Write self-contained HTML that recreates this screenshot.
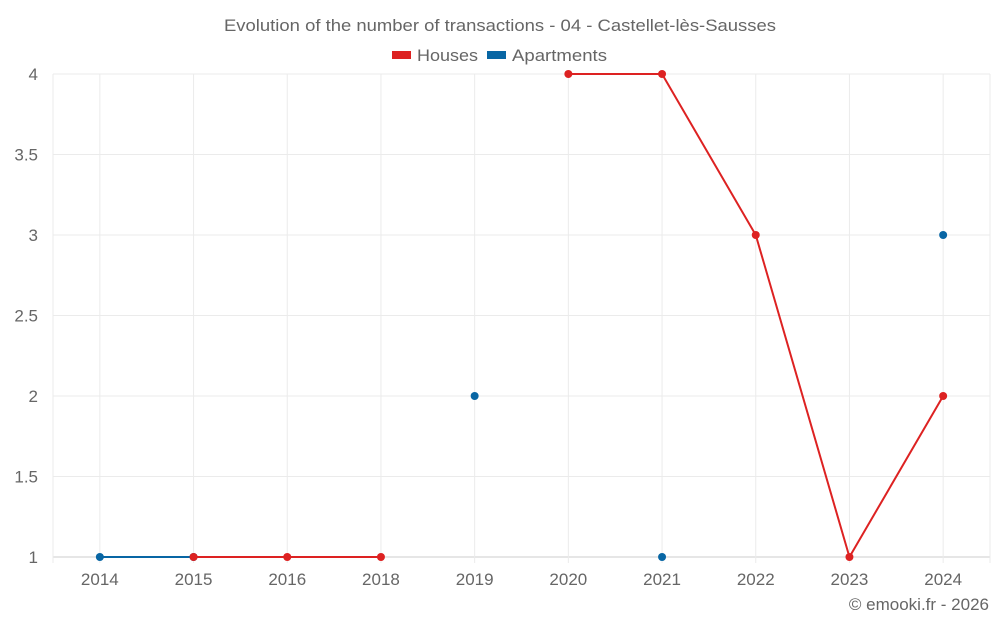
<!DOCTYPE html>
<html><head><meta charset="utf-8"><style>
body{margin:0;background:#fff;font-family:"Liberation Sans",sans-serif;}
svg text{font-family:"Liberation Sans",sans-serif;fill:#666;}
</style></head><body>
<svg id="chart" width="1000" height="625">
<text x="224" y="31" font-size="17" textLength="552" lengthAdjust="spacingAndGlyphs">Evolution of the number of transactions - 04 - Castellet-lès-Sausses</text>
<g>
<g><rect x="392" y="51" width="19" height="8" fill="#dd2222"/><text x="417" y="61" font-size="17" textLength="61" lengthAdjust="spacingAndGlyphs">Houses</text></g>
<g><rect x="487" y="51" width="19" height="8" fill="#0866a4"/><text x="512" y="61" font-size="17" textLength="95" lengthAdjust="spacingAndGlyphs">Apartments</text></g>
</g>
<g id="grid"></g>
<g id="axes"></g>
<g id="series"></g>
<text x="989" y="610" text-anchor="end" font-size="17">© emooki.fr - 2026</text>
</svg>
<script>
const categories=["2014","2015","2016","2018","2019","2020","2021","2022","2023","2024"];
const houses=[null,1,1,1,null,4,4,3,1,2];
const apartments=[1,1,null,null,2,null,1,null,null,3];
const yTicks=[1,1.5,2,2.5,3,3.5,4];
const yTickLabels=["1","1.5","2","2.5","3","3.5","4"];
const NS="http://www.w3.org/2000/svg";
const L=53,R=990,T=74,B=557,yMin=1,yMax=4;
const bw=(R-L)/categories.length;
const xs=i=>L+bw*(i+0.5);
const ys=v=>B-(v-yMin)/(yMax-yMin)*(B-T);
function mk(tag,attrs,parent){const e=document.createElementNS(NS,tag);for(const k in attrs)e.setAttribute(k,attrs[k]);parent.appendChild(e);return e;}
const grid=document.getElementById('grid'),axes=document.getElementById('axes'),series=document.getElementById('series');
yTicks.forEach((t,i)=>{
 const l=mk('line',{x1:L,x2:R,y1:ys(t),y2:ys(t),stroke:i==0?'#ccc':'#ebebeb','stroke-width':1},grid);
 
 
 const tx=mk('text',{x:38,y:ys(t)+6,'text-anchor':'end','font-size':17},axes);
 tx.textContent=yTickLabels[i];
 
 
});
[L,R].forEach(x=>{const l=mk('line',{x1:x,x2:x,y1:T,y2:B+6,stroke:'#ebebeb'},grid);
 
 });
categories.forEach((c,i)=>{
 const l=mk('line',{x1:xs(i),x2:xs(i),y1:T,y2:B+6,stroke:'#ebebeb'},grid);
 
 
 const tx=mk('text',{x:xs(i),y:585,'text-anchor':'middle','font-size':17},axes);
 tx.textContent=c;
 
 
});
function draw(data,color,name){
 let seg=[];
 const flush=()=>{if(seg.length>1){const p=mk('polyline',{points:seg.join(' '),fill:'none',stroke:color,'stroke-width':2},series);
  
  }seg=[];};
 data.forEach((v,i)=>{if(v==null){flush();return;}seg.push(xs(i)+','+ys(v));});
 flush();
 data.forEach((v,i)=>{if(v==null)return;
  const c=mk('circle',{cx:xs(i),cy:ys(v),r:4,fill:color},series);
  
  });
}
draw(apartments,'#0866a4','apartments');
draw(houses,'#dd2222','houses');
</script>
</body></html>
